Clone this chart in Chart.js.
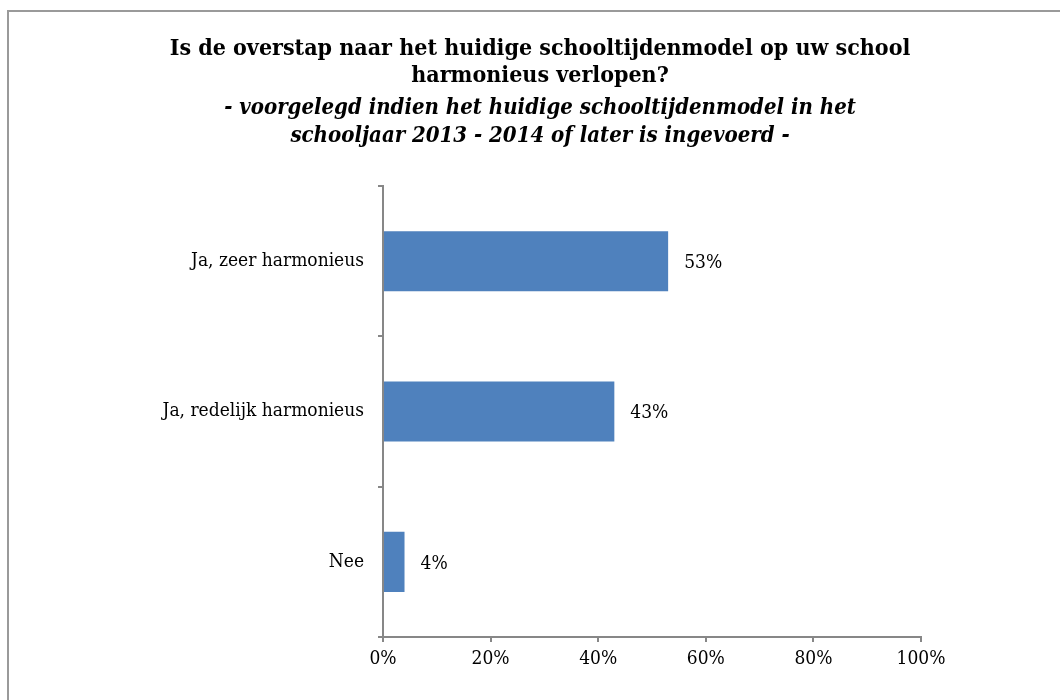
<!DOCTYPE html>
<html>
<head>
<meta charset="utf-8">
<script src="https://cdn.jsdelivr.net/npm/chart.js@4"></script>
<style>
  body { margin: 0; overflow: hidden; background: #fff; }
  #frame { position: absolute; left: 7px; top: 10px; width: 1100px; height: 800px;
           border-top: 2px solid #9a9a9a; border-left: 2px solid #9a9a9a; }
  #wrap { position: absolute; left: 0; top: 0; }
</style>
</head>
<body>
<div id="frame"></div>
<div id="wrap"><canvas id="chart" width="1080" height="700"></canvas></div>
<script>
const categories = ['Ja, zeer harmonieus', 'Ja, redelijk harmonieus', 'Nee']
const percentages = [53, 43, 4]
const xTicks = [0, 20, 40, 60, 80, 100]

const titleLines = ['Is de overstap naar het huidige schooltijdenmodel op uw school', 'harmonieus verlopen?']
const subtitleLines = ['- voorgelegd indien het huidige schooltijdenmodel in het', 'schooljaar 2013 - 2014 of later is ingevoerd -']

const serif = '"DejaVu Serif Condensed", "DejaVu Serif", serif'
const axisGrey = '#878787'

// value labels to the right of each bar
const barLabels = {
    id: 'barLabels',
    afterDatasetsDraw(chart) {
        const c = chart.ctx
        const meta = chart.getDatasetMeta(0)
        c.save()
        c.font = '19px ' + serif
        c.fillStyle = '#000'
        c.textBaseline = 'middle'
        c.textAlign = 'left'
        meta.data.forEach((bar, i) => {
            c.fillText(percentages[i] + '%', bar.x + 16, bar.y + 2)
        })
        c.restore()
    }
}

const ctx = document.getElementById('chart').getContext('2d')

const chart = new Chart(ctx, {
    type: 'bar',
    data: {
        labels: categories,
        datasets: [{
            data: percentages,
            backgroundColor: '#4F81BD',
            barPercentage: 0.4,
            categoryPercentage: 1
        }]
    },
    plugins: [barLabels],
    options: {
        indexAxis: 'y',
        responsive: false,
        animation: false,
        devicePixelRatio: 1,
        layout: { padding: { left: 159, right: 159, top: 0, bottom: 0 } },
        plugins: {
            legend: { display: false },
            tooltip: { enabled: false },
            title: {
                display: true,
                text: titleLines,
                color: '#000',
                font: { family: serif, size: 23, weight: 'bold', lineHeight: 1.2 },
                padding: { top: 35, bottom: 0 }
            },
            subtitle: {
                display: true,
                text: subtitleLines,
                color: '#000',
                font: { family: serif, size: 22, weight: 'bold', style: 'italic', lineHeight: 1.27 },
                padding: { top: 4, bottom: 36 }
            }
        },
        scales: {
            x: {
                min: 0,
                max: 100,
                afterBuildTicks: axis => { axis.ticks = xTicks.map(v => ({ value: v })) },
                afterFit: axis => { axis.height = 63 },
                ticks: {
                    callback: v => v + '%',
                    color: '#000',
                    padding: 6,
                    maxRotation: 0,
                    font: { family: serif, size: 19 }
                },
                grid: { drawOnChartArea: false, tickLength: 5, color: axisGrey, lineWidth: 2 },
                border: { color: axisGrey, width: 2 }
            },
            y: {
                afterFit: axis => { axis.width = 383 - 159 },
                ticks: {
                    color: '#000',
                    padding: 14,
                    font: { family: serif, size: 19 }
                },
                grid: { drawOnChartArea: false, tickLength: 5, color: axisGrey, lineWidth: 2 },
                border: { color: axisGrey, width: 2 }
            }
        }
    }
})
</script>
</body>
</html>
